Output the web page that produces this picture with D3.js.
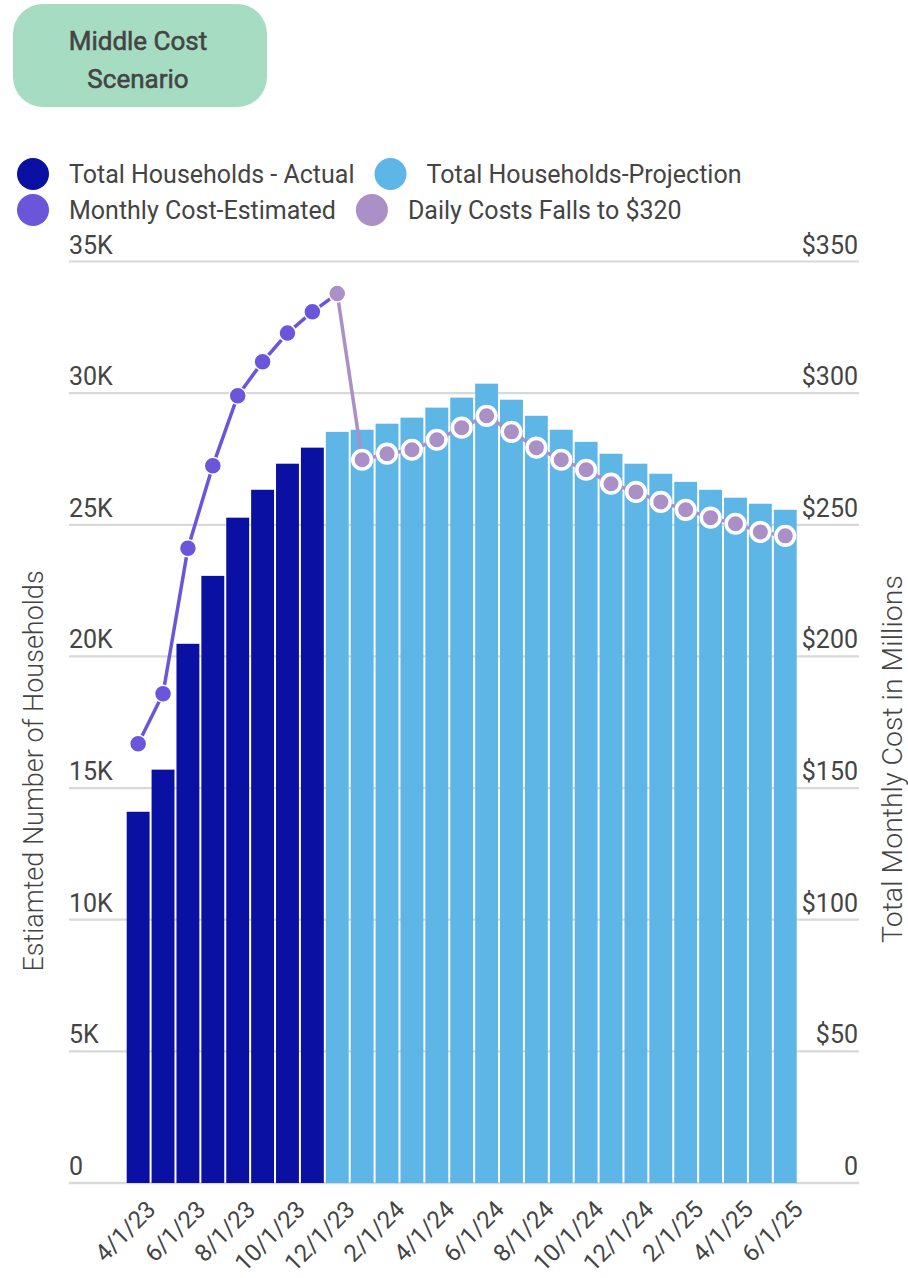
<!DOCTYPE html>
<html>
<head>
<meta charset="utf-8">
<script src="https://cdn.jsdelivr.net/npm/d3@7"></script>
<style>
  html, body { margin: 0; padding: 0; background: #fff; }
  svg { display: block; font-family: Roboto, "Noto Sans", sans-serif; }
</style>
</head>
<body>
<svg id="chart" width="908" height="1278"></svg>
<script>
// ---------- DATA ----------
const months = ["4/1/23","5/1/23","6/1/23","7/1/23","8/1/23","9/1/23","10/1/23","11/1/23",
  "12/1/23","1/1/24","2/1/24","3/1/24","4/1/24","5/1/24","6/1/24","7/1/24","8/1/24","9/1/24",
  "10/1/24","11/1/24","12/1/24","1/1/25","2/1/25","3/1/25","4/1/25","5/1/25","6/1/25"];
const actualMonths = months.slice(0, 8);
const actualHouseholds = [14100, 15700, 20480, 23060, 25270, 26330, 27320, 27930];
const projectionMonths = months.slice(8);
const projectedHouseholds = [28530, 28610, 28840, 29070, 29450, 29830, 30360, 29750, 29140,
  28610, 28150, 27700, 27320, 26940, 26630, 26330, 26030, 25800, 25570];
const costMonths = months.slice(0, 9);
const monthlyCostEstimated = [166.8, 185.8, 241.1, 272.4, 299.0, 311.9, 322.8, 330.9, 337.8];
const fallMonths = months.slice(8);
const dailyCostFalls = [337.8, 274.7, 277.0, 278.5, 282.3, 286.9, 291.4, 285.3, 279.3, 274.7,
  270.9, 265.6, 262.5, 258.7, 255.7, 252.7, 250.4, 247.3, 245.8];
const xTickLabels = ["4/1/23","6/1/23","8/1/23","10/1/23","12/1/23","2/1/24","4/1/24","6/1/24",
  "8/1/24","10/1/24","12/1/24","2/1/25","4/1/25","6/1/25"];
const leftTicks = [0, 5000, 10000, 15000, 20000, 25000, 30000, 35000];
const leftTickLabels = ["0","5K","10K","15K","20K","25K","30K","35K"];
const rightTicks = [0, 50, 100, 150, 200, 250, 300, 350];
const rightTickLabels = ["0","$50","$100","$150","$200","$250","$300","$350"];
const legendItems = ["Total Households - Actual","Total Households-Projection",
  "Monthly Cost-Estimated","Daily Costs Falls to $320"];
const titleLines = ["Middle Cost","Scenario"];

// ---------- STYLE ----------
const C = {
  dark: "#0a10a2", light: "#5db6e5", purple: "#6b55da", lavender: "#ab8fc7",
  title: "#a6dcc2", text: "#444444", grid: "#d9d9d9"
};
const FS = 25;

const svg = d3.select("#chart");

// ---------- SCALES ----------
const x = d3.scaleBand().domain(months).range([125.7, 797.7]).paddingInner(0.08).paddingOuter(0.04);
const yL = d3.scaleLinear().domain([0, 35000]).range([1183, 261.5]);
const yR = d3.scaleLinear().domain([0, 350]).range([1183, 261.5]);
const cx = m => x(m) + x.bandwidth() / 2;

// ---------- TITLE ----------
svg.append("rect").attr("x", 13).attr("y", 4).attr("width", 254).attr("height", 103)
  .attr("rx", 30).attr("fill", C.title);
svg.selectAll("text.title").data(titleLines).join("text").attr("class", "title")
  .attr("x", 138).attr("y", (d, i) => 50 + i * 38)
  .attr("text-anchor", "middle").attr("font-size", 26).attr("font-weight", 400)
  .attr("fill", C.text).attr("stroke", C.text).attr("stroke-width", 0.55)
  .text(d => d);

// ---------- LEGEND ----------
const legendColors = [C.dark, C.light, C.purple, C.lavender];
const rows = [[0, 1], [2, 3]];
rows.forEach((row, ri) => {
  let cursor = 17;
  const cy = 174 + ri * 36;
  row.forEach(idx => {
    svg.append("circle").attr("cx", cursor + 16).attr("cy", cy).attr("r", 16)
      .attr("fill", legendColors[idx]);
    const t = svg.append("text").attr("x", cursor + 52).attr("y", cy).attr("dy", "0.36em")
      .attr("font-size", FS).attr("fill", C.text).text(legendItems[idx]);
    cursor = cursor + 52 + t.node().getComputedTextLength() + 20;
  });
});

// ---------- GRID ----------
const gridG = svg.append("g");
gridG.selectAll("line").data(leftTicks).join("line")
  .attr("x1", 69).attr("x2", 859)
  .attr("y1", d => yL(d)).attr("y2", d => yL(d))
  .attr("stroke", C.grid).attr("stroke-width", d => d === 0 ? 2.6 : 2.2);

// left tick labels
svg.append("g").selectAll("text").data(leftTicks).join("text")
  .attr("x", 69).attr("y", d => yL(d) - 8)
  .attr("font-size", FS).attr("fill", C.text)
  .text((d, i) => leftTickLabels[i]);
// right tick labels
svg.append("g").selectAll("text").data(rightTicks).join("text")
  .attr("x", 858).attr("y", d => yR(d) - 8).attr("text-anchor", "end")
  .attr("font-size", FS).attr("fill", C.text)
  .text((d, i) => rightTickLabels[i]);

// ---------- BARS ----------
svg.append("g").selectAll("rect").data(actualMonths).join("rect")
  .attr("x", d => x(d)).attr("width", x.bandwidth())
  .attr("y", (d, i) => yL(actualHouseholds[i]))
  .attr("height", (d, i) => yL(0) - yL(actualHouseholds[i]))
  .attr("fill", C.dark);
svg.append("g").selectAll("rect").data(projectionMonths).join("rect")
  .attr("x", d => x(d)).attr("width", x.bandwidth())
  .attr("y", (d, i) => yL(projectedHouseholds[i]))
  .attr("height", (d, i) => yL(0) - yL(projectedHouseholds[i]))
  .attr("fill", C.light);

// ---------- LINES ----------
const line = d3.line().x(d => cx(d[0])).y(d => yR(d[1]));
const costPts = costMonths.map((m, i) => [m, monthlyCostEstimated[i]]);
const fallPts = fallMonths.map((m, i) => [m, dailyCostFalls[i]]);

svg.append("path").datum(fallPts).attr("d", line)
  .attr("fill", "none").attr("stroke", C.lavender).attr("stroke-width", 3.5);
svg.append("path").datum(costPts).attr("d", line)
  .attr("fill", "none").attr("stroke", C.purple).attr("stroke-width", 3.5);

// lavender markers (with white ring)
svg.append("g").selectAll("circle").data(fallPts.slice(1)).join("circle")
  .attr("cx", d => cx(d[0])).attr("cy", d => yR(d[1])).attr("r", 9.3)
  .attr("fill", C.lavender).attr("stroke", "#fff").attr("stroke-width", 3.6);
// purple markers
svg.append("g").selectAll("circle").data(costPts).join("circle")
  .attr("cx", d => cx(d[0])).attr("cy", d => yR(d[1])).attr("r", 8.5)
  .attr("fill", (d, i) => i === costPts.length - 1 ? C.lavender : C.purple)
  .attr("stroke", "#fff").attr("stroke-width", 1.5);

// ---------- X LABELS ----------
svg.append("g").selectAll("text").data(xTickLabels).join("text")
  .attr("transform", d => `translate(${cx(d) + 19},1211) rotate(-45)`)
  .attr("text-anchor", "end").attr("font-size", 24).attr("fill", C.text)
  .text(d => d);

// ---------- AXIS TITLES ----------
svg.append("text").attr("transform", "translate(33,771) rotate(-90)")
  .attr("text-anchor", "middle").attr("dy", "0.36em")
  .attr("font-size", 27).attr("font-weight", 300).attr("fill", C.text)
  .text("Estiamted Number of Households");
svg.append("text").attr("transform", "translate(892,759) rotate(-90)")
  .attr("text-anchor", "middle").attr("dy", "0.36em")
  .attr("font-size", 28.5).attr("font-weight", 300).attr("fill", C.text)
  .text("Total Monthly Cost in Millions");
</script>
</body>
</html>
